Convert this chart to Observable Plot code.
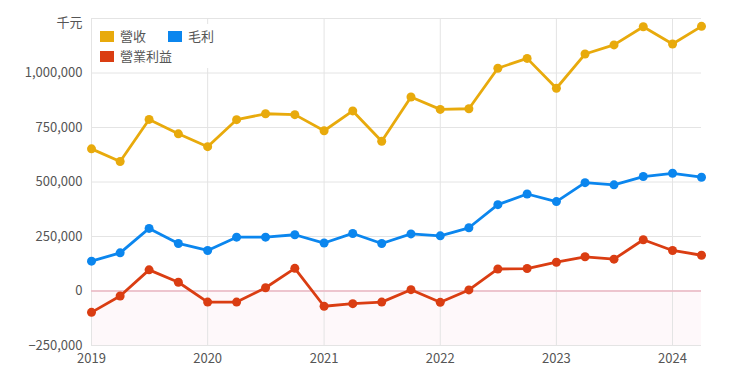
<!DOCTYPE html>
<html>
<head>
<meta charset="utf-8">
<script src="https://cdn.jsdelivr.net/npm/d3@7"></script>
<script src="https://cdn.jsdelivr.net/npm/@observablehq/plot@0.6"></script>
<style>
  html, body { margin: 0; padding: 0; background: #fff; }
  #wrap { position: relative; width: 740px; height: 376px; font-family: "Noto Sans CJK TC", "Noto Sans", sans-serif; }
  #legend { position: absolute; left: 96px; top: 24px; background: #fff; padding: 2px 4px; font-size: 13px; color: #555; line-height: 20px; }
  .item { display: inline-flex; align-items: center; margin-right: 22px; }
  .sw { display: inline-block; width: 14px; height: 11px; margin-right: 6px; }
  .row { display: block; height: 20px; }
</style>
</head>
<body>
<div id="wrap"><div id="chart"></div><div id="legend"></div></div>
<script>
const quarters = ["2019Q1","2019Q2","2019Q3","2019Q4","2020Q1","2020Q2","2020Q3","2020Q4","2021Q1","2021Q2","2021Q3","2021Q4","2022Q1","2022Q2","2022Q3","2022Q4","2023Q1","2023Q2","2023Q3","2023Q4","2024Q1","2024Q2"];
const revenue = [652000,594000,787000,721000,662000,786000,813000,809000,735000,826000,687000,890000,833000,836000,1022000,1067000,930000,1087000,1129000,1212000,1133000,1214000];
const grossProfit = [137000,175000,287000,218000,186000,247000,247000,258000,220000,264000,218000,262000,253000,290000,396000,445000,410000,497000,487000,525000,540000,522000];
const operatingIncome = [-98000,-23000,97000,40000,-51000,-51000,15000,104000,-70000,-58000,-51000,6000,-52000,5000,101000,103000,132000,157000,146000,235000,186000,164000];
const seriesNames = ["營收","毛利","營業利益"];
const seriesColors = ["#e8aa0c","#0b86ee","#da3d12"];
const yTicks = [-250000,0,250000,500000,750000,1000000];
const yTop = 1250000;
const unitLabel = "千元";
const yearTicks = [2019,2020,2021,2022,2023,2024];

const toDate = q => new Date(Date.UTC(+q.slice(0,4), (+q.slice(5)-1)*3, 1));
const seriesValues = [revenue, grossProfit, operatingIncome];
const rows = [];
seriesNames.forEach((name, s) => quarters.forEach((q, i) => rows.push({date: toDate(q), value: seriesValues[s][i], series: name})));
const xDomain = [toDate(quarters[0]), toDate(quarters[quarters.length-1])];
const yearDates = yearTicks.map(y => new Date(Date.UTC(y,0,1)));
const fmt = d3.format(",");

const chart = Plot.plot({
  width: 740,
  height: 376,
  marginLeft: 91,
  marginRight: 39,
  marginTop: 18,
  marginBottom: 31,
  style: {fontFamily: '"Noto Sans CJK TC", "Noto Sans", sans-serif', fontSize: "13px", color: "#555", background: "#fff"},
  x: {type: "utc", domain: xDomain, label: null},
  y: {domain: [yTicks[0], yTop], label: null},
  color: {domain: seriesNames, range: seriesColors},
  marks: [
    Plot.rect([0], {x1: () => xDomain[0], x2: () => xDomain[1], y1: () => yTicks[0], y2: () => 0, fill: "#fef8fa"}),
    Plot.gridY([...yTicks, yTop], {stroke: "#e4e4e4", strokeOpacity: 1}),
    Plot.gridX(yearDates, {stroke: "#e4e4e4", strokeOpacity: 1}),
    Plot.ruleY([0], {stroke: "#ebb7c3", strokeWidth: 1.6}),
    Plot.axisY(yTicks, {tickSize: 0, tickPadding: 9, tickFormat: fmt, fill: "#555", fontSize: 13, label: null}),
    Plot.axisY([yTop], {tickSize: 0, tickPadding: 9, tickFormat: () => unitLabel, fill: "#555", fontSize: 13, dy: 4, label: null}),
    Plot.axisX(yearDates, {tickSize: 0, tickPadding: 8, tickFormat: d3.utcFormat("%Y"), fill: "#555", fontSize: 13, label: null}),
    Plot.line(rows, {x: "date", y: "value", stroke: "series", z: "series", strokeWidth: 2.8}),
    Plot.dot(rows, {x: "date", y: "value", fill: "series", r: 4.5})
  ]
});
document.getElementById("chart").appendChild(chart);

const legend = document.getElementById("legend");
const layout = [[0,1],[2]];
layout.forEach(r => {
  const row = document.createElement("div");
  row.className = "row";
  r.forEach(s => {
    const it = document.createElement("span");
    it.className = "item";
    it.innerHTML = `<span class="sw" style="background:${seriesColors[s]}"></span>${seriesNames[s]}`;
    row.appendChild(it);
  });
  legend.appendChild(row);
});
</script>
</body>
</html>
